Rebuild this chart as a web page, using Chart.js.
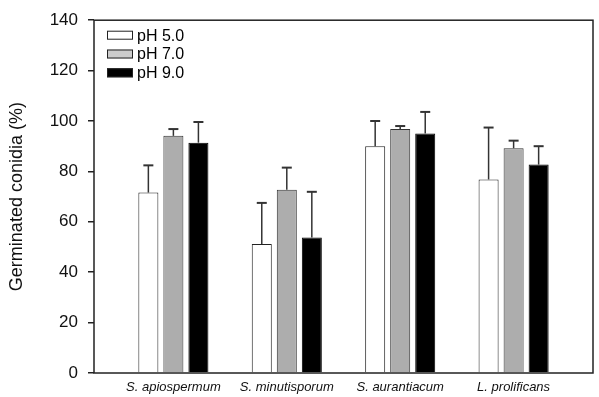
<!DOCTYPE html>
<html>
<head>
<meta charset="utf-8">
<script src="https://cdn.jsdelivr.net/npm/chart.js@4/dist/chart.umd.min.js"></script>
<style>
  html, body { margin: 0; padding: 0; background: #fff; }
  #wrap { width: 599px; height: 397px; }
</style>
</head>
<body>
<div id="wrap"><canvas id="c" width="599" height="397"></canvas></div>
<script>
// ---- data ----
const categories = ["S. apiospermum", "S. minutisporum", "S. aurantiacum", "L. prolificans"];
const seriesLabels = ["pH 5.0", "pH 7.0", "pH 9.0"];
const ph5 = [71.6, 51.2, 90.0, 76.8];
const ph7 = [94.1, 72.7, 96.8, 89.2];
const ph9 = [91.4, 53.8, 95.0, 82.7];
const ph5Err = [10.8, 16.3, 10.0, 20.6];
const ph7Err = [2.7, 8.8, 1.2, 3.0];
const ph9Err = [8.2, 18.1, 8.6, 7.3];
const yTicks = [0, 20, 40, 60, 80, 100, 120, 140];

const FONT = "'Liberation Sans', Arial, Helvetica, sans-serif";
const fills = ["#ffffff", "#adadad", "#000000"];
const legendFills = ["#ffffff", "#cccccc", "#000000"];
const borders = ["#222222", "#333333", "#000000"];
const values = [ph5, ph7, ph9];
const errs = [ph5Err, ph7Err, ph9Err];

const datasets = values.map((vals, s) => ({
  label: seriesLabels[s],
  data: vals.map((v, i) => ({ x: i, y: v })),
  errors: errs[s],
  backgroundColor: fills[s],
  borderColor: borders[s],
  borderWidth: 1,
  borderSkipped: 'start',
  barPercentage: 0.8,
  categoryPercentage: 0.662
}));

const errorBars = {
  id: 'errorBars',
  afterDatasetsDraw(chart) {
    const ctx = chart.ctx;
    const y = chart.scales.y;
    ctx.save();
    ctx.strokeStyle = '#333';
    chart.data.datasets.forEach((ds, di) => {
      const meta = chart.getDatasetMeta(di);
      meta.data.forEach((bar, i) => {
        const top = y.getPixelForValue(ds.data[i].y + ds.errors[i]);
        ctx.lineWidth = 1.5;
        ctx.beginPath();
        ctx.moveTo(bar.x, bar.y);
        ctx.lineTo(bar.x, top);
        ctx.stroke();
        ctx.lineWidth = 2;
        ctx.beginPath();
        ctx.moveTo(bar.x - 5, top);
        ctx.lineTo(bar.x + 5, top);
        ctx.stroke();
      });
    });
    ctx.restore();
  }
};

const frame = {
  id: 'frame',
  afterDraw(chart) {
    const a = chart.chartArea, ctx = chart.ctx;
    ctx.save();
    ctx.strokeStyle = '#222';
    ctx.lineWidth = 1.5;
    ctx.strokeRect(a.left, a.top, a.right - a.left, a.bottom - a.top);
    ctx.restore();
  }
};

const legendBox = {
  id: 'legendBox',
  afterDraw(chart) {
    const a = chart.chartArea, ctx = chart.ctx;
    ctx.save();
    ctx.font = "16px " + FONT;
    ctx.textBaseline = 'middle';
    chart.data.datasets.forEach((ds, i) => {
      const cy = a.top + 15 + i * 18.8;
      const bx = a.left + 13;
      ctx.fillStyle = legendFills[i];
      ctx.fillRect(bx, cy - 4.5, 26, 9);
      ctx.strokeStyle = '#222';
      ctx.lineWidth = 1;
      ctx.strokeRect(bx + 0.5, cy - 4, 25, 8);
      ctx.fillStyle = '#000';
      ctx.fillText(ds.label, bx + 30, cy + 1);
    });
    ctx.restore();
  }
};

new Chart(document.getElementById('c'), {
  type: 'bar',
  data: { datasets },
  options: {
    responsive: false,
    animation: false,
    devicePixelRatio: 1,
    layout: { padding: { top: 14, right: 6, left: 0, bottom: 0 } },
    plugins: { legend: { display: false }, tooltip: { enabled: false } },
    scales: {
      x: {
        type: 'linear',
        offset: false,
        min: -0.7,
        max: 3.7,
        afterBuildTicks(axis) { axis.ticks = categories.map((c, i) => ({ value: i })); },
        afterFit(axis) { axis.height = 24; },
        grid: { display: false, drawTicks: false },
        border: { display: false },
        ticks: {
          autoSkip: false,
          maxRotation: 0,
          padding: 7,
          color: '#111',
          font: { family: FONT, size: 13, style: 'italic' },
          callback: (v) => categories[v] !== undefined ? categories[v] : ''
        }
      },
      y: {
        min: 0,
        max: 140,
        afterBuildTicks(axis) { axis.ticks = yTicks.map(v => ({ value: v })); },
        afterFit(axis) { axis.width = 94; },
        grid: { drawOnChartArea: false, drawTicks: true, tickLength: 6, color: '#222', lineWidth: 1.5 },
        border: { display: false },
        ticks: { padding: 10, color: '#111', font: { family: FONT, size: 17 } },
        title: {
          display: true,
          text: 'Germinated conidia (%)',
          color: '#111',
          padding: { top: 6, bottom: 0 },
          font: { family: FONT, size: 18 }
        }
      }
    }
  },
  plugins: [errorBars, frame, legendBox]
});
</script>
</body>
</html>
